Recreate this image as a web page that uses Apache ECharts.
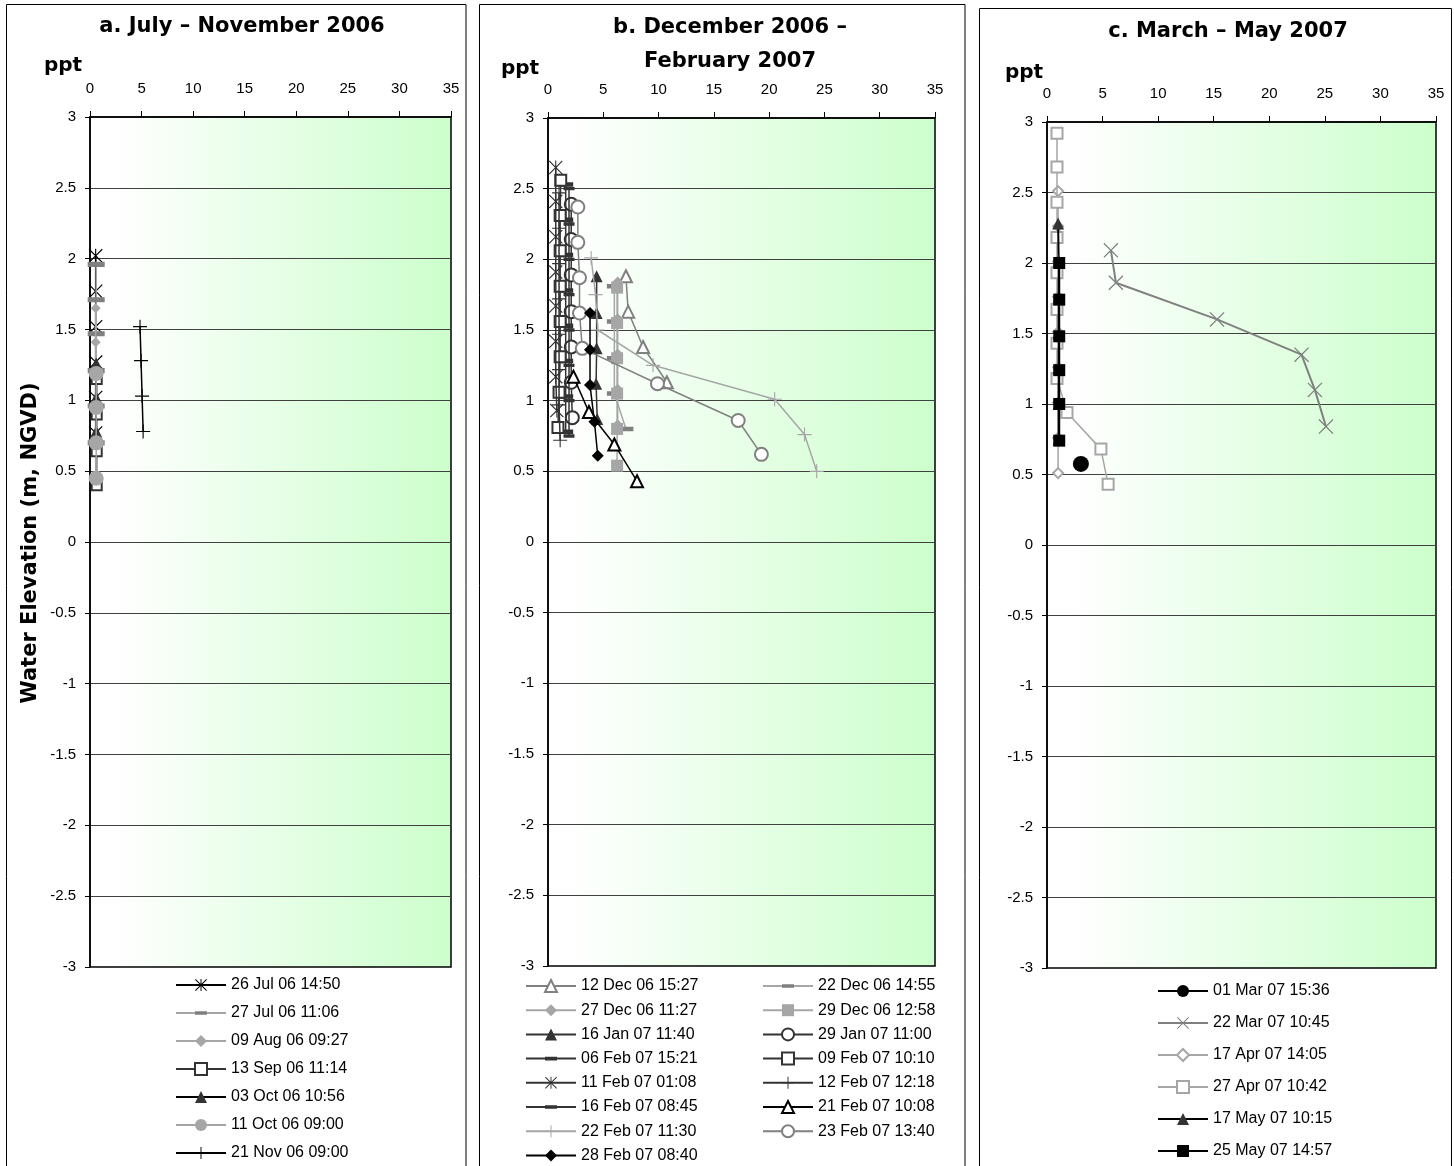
<!DOCTYPE html>
<html><head><meta charset="utf-8">
<script src="https://cdn.jsdelivr.net/npm/echarts@6/dist/echarts.min.js"></script>
<style>html,body{margin:0;padding:0;background:#fff}#c{width:1454px;height:1166px}</style>
</head><body><div id="c"></div><script>
// ---------- DATA ----------
const xTickMin = 0, xTickMax = 35, xTickStep = 5;
const yTickMin = -3, yTickMax = 3, yTickStep = 0.5;

// Panel a: July - November 2006  ([salinity ppt, elevation m])
const namesA = ['26 Jul 06 14:50','27 Jul 06 11:06','09 Aug 06 09:27','13 Sep 06 11:14','03 Oct 06 10:56','11 Oct 06 09:00','21 Nov 06 09:00'];
const a26Jul = [[0.55,2.02],[0.55,1.77],[0.55,1.52],[0.55,1.27],[0.55,1.02],[0.55,0.77]];
const a27Jul = [[0.6,1.96],[0.6,1.71],[0.6,1.47],[0.6,1.21],[0.6,0.96],[0.6,0.7]];
const a09Aug = [[0.55,1.65],[0.55,1.41],[0.55,1.17],[0.55,0.93],[0.55,0.69],[0.55,0.45]];
const a13Sep = [[0.65,1.15],[0.65,0.9],[0.65,0.64],[0.65,0.4]];
const a03Oct = [[0.6,1.26],[0.6,1.02],[0.6,0.78]];
const a11Oct = [[0.6,1.19],[0.6,0.95],[0.6,0.7],[0.6,0.45]];
const a21Nov = [[4.85,1.52],[4.95,1.28],[5.05,1.03],[5.15,0.78]];

// Panel b: December 2006 - February 2007
const namesB = ['12 Dec 06 15:27','22 Dec 06 14:55','27 Dec 06 11:27','29 Dec 06 12:58','16 Jan 07 11:40','29 Jan 07 11:00','06 Feb 07 15:21','09 Feb 07 10:10','11 Feb 07 01:08','12 Feb 07 12:18','16 Feb 07 08:45','21 Feb 07 10:08','22 Feb 07 11:30','23 Feb 07 13:40','28 Feb 07 08:40'];
const b12Dec = [[7.05,1.88],[7.25,1.63],[8.6,1.38],[10.75,1.13]];
const b22Dec = [[6.0,1.81],[6.0,1.56],[6.0,1.3],[6.0,1.05],[7.05,0.8]];
const b27Dec = [[6.3,1.84],[6.3,1.58],[6.3,1.33],[6.3,1.08],[6.3,0.83]];
const b29Dec = [[6.25,1.8],[6.25,1.55],[6.25,1.3],[6.25,1.05],[6.25,0.8],[6.25,0.54]];
const b16Jan = [[4.4,1.88],[4.4,1.62],[4.4,1.37],[4.35,1.12],[4.45,0.87]];
const b29Jan = [[2.1,2.39],[2.1,2.14],[2.1,1.89],[2.1,1.63],[2.1,1.38],[2.1,1.13],[2.2,0.88]];
const b06Feb = [[1.6,2.53],[1.6,2.28],[1.6,2.03],[1.6,1.78],[1.6,1.53],[1.6,1.28],[1.6,1.03],[1.6,0.78]];
const b09Feb = [[1.15,2.56],[1.1,2.31],[1.1,2.06],[1.1,1.81],[1.1,1.56],[1.1,1.31],[1.0,1.06],[0.9,0.81]];
const b11Feb = [[0.7,2.65],[0.7,2.41],[0.7,2.16],[0.7,1.91],[0.7,1.67],[0.7,1.42],[0.7,1.17],[0.8,0.93]];
const b12Feb = [[1.0,2.47],[1.0,2.22],[1.0,1.97],[1.0,1.72],[1.0,1.47],[1.0,1.22],[1.0,0.97],[1.1,0.72]];
const b16Feb = [[1.9,2.5],[1.9,2.25],[1.9,2.0],[1.9,1.75],[1.9,1.5],[1.9,1.25],[1.9,1.0],[1.9,0.75]];
const b21Feb = [[2.3,1.17],[3.7,0.92],[6.0,0.69],[8.05,0.43]];
const b22Feb = [[3.9,2.01],[4.3,1.75],[4.5,1.5],[9.5,1.25],[20.5,1.01],[23.2,0.76],[24.3,0.5]];
const b23Feb = [[2.7,2.37],[2.7,2.12],[2.85,1.87],[2.85,1.62],[3.1,1.37],[9.9,1.12],[17.2,0.86],[19.3,0.62]];
const b28Feb = [[3.8,1.62],[3.8,1.36],[3.8,1.11],[4.2,0.85],[4.5,0.61]];
const namesB1 = ['12 Dec 06 15:27','27 Dec 06 11:27','16 Jan 07 11:40','06 Feb 07 15:21','11 Feb 07 01:08','16 Feb 07 08:45','22 Feb 07 11:30','28 Feb 07 08:40'];
const namesB2 = ['22 Dec 06 14:55','29 Dec 06 12:58','29 Jan 07 11:00','09 Feb 07 10:10','12 Feb 07 12:18','21 Feb 07 10:08','23 Feb 07 13:40'];

// Panel c: March - May 2007
const namesC = ['01 Mar 07 15:36','22 Mar 07 10:45','17 Apr 07 14:05','27 Apr 07 10:42','17 May 07 10:15','25 May 07 14:57'];
const c01Mar = [[3.05,0.575]];
const c22Mar = [[5.75,2.09],[6.2,1.86],[15.3,1.6],[22.9,1.35],[24.1,1.1],[25.1,0.84]];
const c17Apr = [[1.0,2.51],[1.0,2.26],[1.0,2.01],[1.0,1.76],[1.0,1.51],[1.0,1.26],[1.0,1.01],[1.0,0.76],[1.0,0.51]];
const c27Apr = [[0.9,2.92],[0.9,2.68],[0.9,2.43],[0.9,2.18],[0.9,1.93],[0.9,1.67],[0.9,1.43],[0.9,1.18],[1.8,0.94],[4.85,0.68],[5.5,0.43]];
const c17May = [[1.0,2.28],[1.05,2.02],[1.05,1.76],[1.05,1.5],[1.05,1.25],[1.05,1.0],[1.05,0.75]];
const c25May = [[1.1,2.0],[1.1,1.74],[1.1,1.48],[1.1,1.24],[1.1,1.0],[1.1,0.74]];

// ---------- STYLES ----------
const PLUS = 'path://M0,9.2H20V10.8H0Z M9.2,0H10.8V20H9.2Z';
const XMARK = 'path://M1.2,0L10,8.8L18.8,0L20,1.2L11.2,10L20,18.8L18.8,20L10,11.2L1.2,20L0,18.8L8.8,10L0,1.2Z';
const AST = 'path://M1.2,0L10,8.8L18.8,0L20,1.2L11.2,10L20,18.8L18.8,20L10,11.2L1.2,20L0,18.8L8.8,10L0,1.2Z M9.2,0H10.8V20H9.2Z';
const DASH = 'path://M0,0L0.01,0 M0,7H20V13H0Z M20,20L19.99,20';

const BLK='#000', DK='#333333', GR='#808080', LG='#a6a6a6';
function st(sym,size,mk,ln,lw){return {sym,size,mk,ln,lw:lw||1.5};}
const stylesA = [st(AST,14,BLK,BLK), st(DASH,17,GR,LG), st('diamond',10,LG,LG), st('emptyRect',10,DK,DK), st('triangle',12,DK,BLK), st('circle',15,LG,LG), st(PLUS,14,BLK,BLK)];
const stylesB = [st('emptyTriangle',12,GR,GR), st(DASH,15,GR,LG), st('diamond',11,LG,LG), st('rect',12,LG,LG), st('triangle',12,DK,DK), st('emptyCircle',13,DK,DK), st(DASH,15,DK,DK), st('emptyRect',11,DK,DK), st(AST,14,DK,DK), st(PLUS,14,DK,DK), st(DASH,11,DK,DK), st('emptyTriangle',12,BLK,BLK), st(PLUS,14,LG,LG), st('emptyCircle',13,GR,GR), st('diamond',12,BLK,BLK)];
const stylesC = [st('circle',16,BLK,BLK), st(XMARK,15,GR,GR,2), st('emptyDiamond',10,LG,LG), st('emptyRect',11,LG,LG), st('triangle',12,DK,BLK,2), st('rect',12,BLK,BLK,2)];

const dataA = [a26Jul,a27Jul,a09Aug,a13Sep,a03Oct,a11Oct,a21Nov];
const dataB = [b12Dec,b22Dec,b27Dec,b29Dec,b16Jan,b29Jan,b06Feb,b09Feb,b11Feb,b12Feb,b16Feb,b21Feb,b22Feb,b23Feb,b28Feb];
const dataC = [c01Mar,c22Mar,c17Apr,c27Apr,c17May,c25May];

const series = [];
function addSeries(names,datas,styles,gi){
  names.forEach((n,i)=>{
    const s = styles[i];
    const empty = typeof s.sym==='string' && s.sym.indexOf('empty')===0;
    series.push({
      type:'line', name:n, xAxisIndex:gi, yAxisIndex:gi, data:datas[i],
      symbol:s.sym, symbolSize:s.size, showAllSymbol:true,
      lineStyle:{color:s.ln,width:s.lw},
      itemStyle:{color:s.mk, borderColor:s.mk, borderWidth: empty?1.5:0},
      emphasis:{disabled:true}, z:2+i
    });
  });
}
addSeries(namesA,dataA,stylesA,0);
addSeries(namesB,dataB,stylesB,1);
addSeries(namesC,dataC,stylesC,2);

const grids = [
  {left:90, top:117, width:361, height:850},
  {left:548, top:118, width:387, height:848},
  {left:1047, top:122, width:389, height:846}
].map(g=>Object.assign(g,{show:true, borderColor:'#000', borderWidth:1.5,
  backgroundColor:new echarts.graphic.LinearGradient(0,0,1,0,[{offset:0,color:'#ffffff'},{offset:0.06,color:'#ffffff'},{offset:1,color:'#ccffcc'}])}));

const LBL = {fontFamily:'"Liberation Sans", Arial, sans-serif', fontSize:15, color:'#000'};
const xAxes = [0,1,2].map(i=>({type:'value', gridIndex:i, position:'top', min:xTickMin, max:xTickMax, interval:xTickStep,
  axisLine:{show:true,onZero:false,lineStyle:{color:'#000',width:1.5}}, axisTick:{show:true,length:6,lineStyle:{color:'#000'}},
  axisLabel:Object.assign({margin:21},LBL), splitLine:{show:false}}));
const yAxes = [0,1,2].map(i=>({type:'value', gridIndex:i, min:yTickMin, max:yTickMax, interval:yTickStep,
  axisLine:{show:true,onZero:false,lineStyle:{color:'#000',width:1.5}}, axisTick:{show:true,length:5,lineStyle:{color:'#000'}},
  axisLabel:Object.assign({margin:14},LBL), splitLine:{show:true,lineStyle:{color:'#404040',width:1}}}));

const LEG = {orient:'vertical', padding:0, itemWidth:50, itemHeight:15, selectedMode:false,
  textStyle:{fontFamily:'"Liberation Sans", Arial, sans-serif', fontSize:16, color:'#000'}};
const legends = [
  Object.assign({left:175, top:977, itemGap:12, data:namesA}, LEG),
  Object.assign({left:525, top:978, itemGap:8.2, data:namesB1}, LEG),
  Object.assign({left:762, top:978, itemGap:8.2, data:namesB2}, LEG),
  Object.assign({left:1157, top:983, itemGap:16, data:namesC}, LEG)
];

const TF = 'bold 21px "DejaVu Sans", Verdana, sans-serif';
function txt(t,x,y,rot,f){return {type:'text', x:x, y:y, rotation:rot||0, z:100, style:{text:t, font:f||TF, fill:'#000', align:'center', verticalAlign:'middle'}};}
const PF = 'bold 20px "DejaVu Sans", Verdana, sans-serif';
const graphics = [
  {type:'rect', shape:{x:6.5,y:4.5,width:459.5,height:1170}, style:{fill:null,stroke:'#000',lineWidth:1}, z:0},
  {type:'rect', shape:{x:479.5,y:4.5,width:485.5,height:1170}, style:{fill:null,stroke:'#000',lineWidth:1}, z:0},
  {type:'rect', shape:{x:979.5,y:8.5,width:472,height:1170}, style:{fill:null,stroke:'#000',lineWidth:1}, z:0},
  txt('a. July \u2013 November 2006',242,27),
  txt('b. December 2006 \u2013',730,28),
  txt('February 2007',730,62),
  txt('c. March \u2013 May 2007',1228,32),
  txt('ppt',63,66,0,PF), txt('ppt',520,69,0,PF), txt('ppt',1024,73,0,PF),
  txt('Water Elevation (m, NGVD)',31,543,Math.PI/2)
];

const chart = echarts.init(document.getElementById('c'), null, {renderer:'canvas'});
chart.setOption({animation:false, backgroundColor:'#fff', grid:grids, xAxis:xAxes, yAxis:yAxes, legend:legends, series:series, graphic:graphics});
</script></body></html>
